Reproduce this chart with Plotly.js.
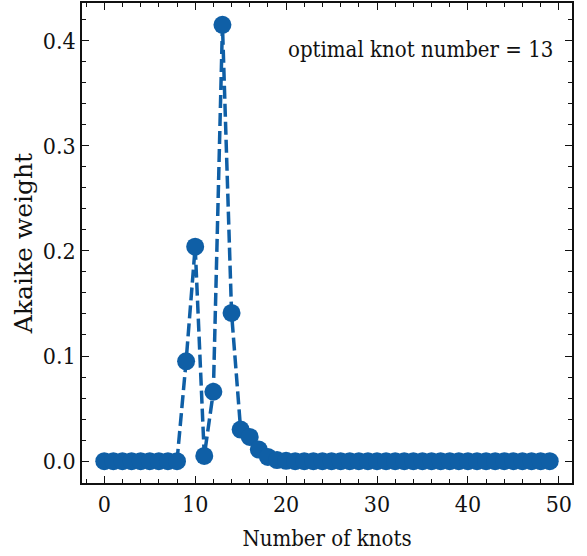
<!DOCTYPE html>
<html><head><meta charset="utf-8">
<script src="https://cdn.plot.ly/plotly-3.0.1.min.js"></script>
<style>html,body{margin:0;padding:0;background:#fff}</style>
</head><body>
<div id="chart" style="width:587px;height:556px"></div>
<script>
const knots = Array.from({length: 50}, (_, i) => i);
const weights = [0,0,0,0,0,0,0,0,0,0.095,0.204,0.005,0.066,0.415,0.141,0.030,0.023,0.011,0.004,0.001,
  0.0003,0,0,0,0,0,0,0,0,0,0,0,0,0,0,0,0,0,0,0,0,0,0,0,0,0,0,0,0,0];
const noteText = 'optimal knot number = 13';
const xTitle = 'Number of knots';
const yTitle = 'Akaike weight';

const col = '#0f5fa6';
const fnt = 'DejaVu Serif Condensed, DejaVu Serif, serif';
Plotly.newPlot('chart', [{
  x: knots, y: weights, type: 'scatter', mode: 'lines+markers',
  line: {color: col, width: 3.5, dash: '13px,5px'},
  marker: {color: col, size: 18},
  showlegend: false
}], {
  width: 587, height: 556,
  margin: {l: 82, r: 15, t: 3, b: 73},
  paper_bgcolor: '#fff', plot_bgcolor: '#fff',
  font: {family: fnt, color: '#111', size: 22},
  xaxis: {
    range: [-2.45, 51.45], tickvals: [0,10,20,30,40,50], ticktext: ['0','10','20','30','40','50'],
    ticks: 'inside', ticklen: 7, tickwidth: 1.2, tickcolor: '#111',
    minor: {dtick: 2, tick0: 0, ticks: 'inside', ticklen: 4, tickcolor: '#111', showgrid: false},
    showline: true, linecolor: '#111', linewidth: 1.5, mirror: 'ticks',
    showgrid: false, zeroline: false,
    tickfont: {family: fnt, size: 23},
    title: {text: xTitle, font: {family: fnt, size: 22}, standoff: 14}
  },
  yaxis: {
    range: [-0.0208, 0.4358], tickvals: [0,0.1,0.2,0.3,0.4], ticktext: ['0.0','0.1','0.2','0.3','0.4'],
    ticks: 'inside', ticklen: 7, tickwidth: 1.2, tickcolor: '#111',
    minor: {dtick: 0.02, tick0: 0, ticks: 'inside', ticklen: 4, tickcolor: '#111', showgrid: false},
    showline: true, linecolor: '#111', linewidth: 1.5, mirror: 'ticks',
    showgrid: false, zeroline: false,
    tickfont: {family: fnt, size: 23},
    title: {text: yTitle, font: {family: 'DejaVu Serif, serif', size: 25}, standoff: 3}
  },
  annotations: [{
    text: noteText, xref: 'paper', yref: 'paper', x: 0.965, y: 0.903,
    xanchor: 'right', yanchor: 'middle', showarrow: false,
    font: {family: fnt, size: 22, color: '#111'}
  }]
}, {displayModeBar: false});
</script>
</body></html>
